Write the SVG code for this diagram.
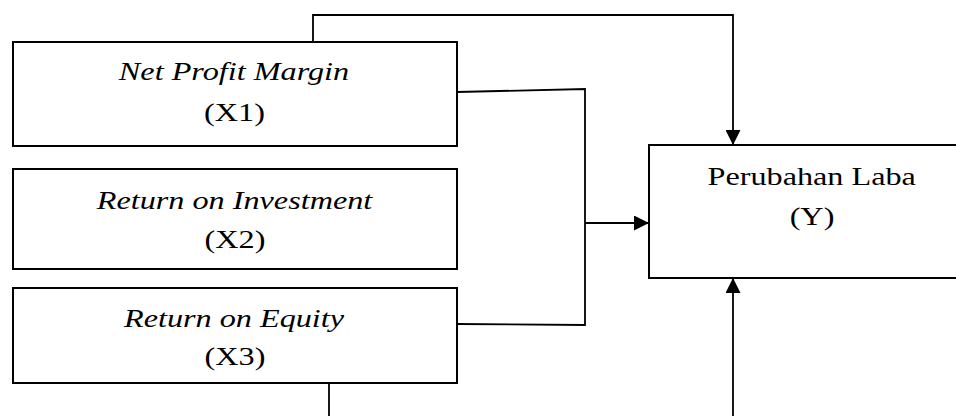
<svg xmlns="http://www.w3.org/2000/svg" width="956" height="416" viewBox="0 0 956 416">
<style>
.box{fill:#fff;stroke:#000;stroke-width:2}
.t{font-family:"Liberation Serif","Times New Roman",serif;font-size:26px;fill:#000;text-anchor:middle}
.i{font-style:italic}
.c{fill:none;stroke:#000;stroke-width:1.8}
</style>
<defs>
<marker id="ah" viewBox="0 0 10 10" refX="10" refY="5" markerWidth="15" markerHeight="15" markerUnits="userSpaceOnUse" orient="auto">
<path d="M0,0 L10,5 L0,10 z" fill="#000"/>
</marker>
</defs>
<rect width="956" height="416" fill="#fff"/>
<g id="connectors">
<polyline class="c" points="313,42 313,15 733,15 733,145" marker-end="url(#ah)"/>
<polyline class="c" points="457,92 585,89 585,325 457,324"/>
<line class="c" x1="585" y1="223" x2="649" y2="223" marker-end="url(#ah)"/>
<line class="c" x1="329" y1="383" x2="329" y2="416"/>
<line class="c" x1="733" y1="416" x2="733" y2="278" marker-end="url(#ah)"/>
</g>
<g id="x1">
<rect class="box" x="13" y="42" width="444" height="104"/>
<text class="t i" transform="translate(234,80) scale(1.24,1)">Net Profit Margin</text>
<text class="t" transform="translate(234.5,121) scale(1.24,1)">(X1)</text>
</g>
<g id="x2">
<rect class="box" x="13" y="169" width="444" height="100"/>
<text class="t i" transform="translate(234.5,209) scale(1.24,1)">Return on Investment</text>
<text class="t" transform="translate(235,248) scale(1.24,1)">(X2)</text>
</g>
<g id="x3">
<rect class="box" x="13" y="288" width="444" height="95"/>
<text class="t i" transform="translate(234,327) scale(1.24,1)">Return on Equity</text>
<text class="t" transform="translate(235,365) scale(1.24,1)">(X3)</text>
</g>
<g id="y">
<rect class="box" x="649" y="145" width="330" height="133"/>
<text class="t" transform="translate(811.7,185) scale(1.24,1)">Perubahan Laba</text>
<text class="t" transform="translate(812,225) scale(1.24,1)">(Y)</text>
</g>
</svg>
